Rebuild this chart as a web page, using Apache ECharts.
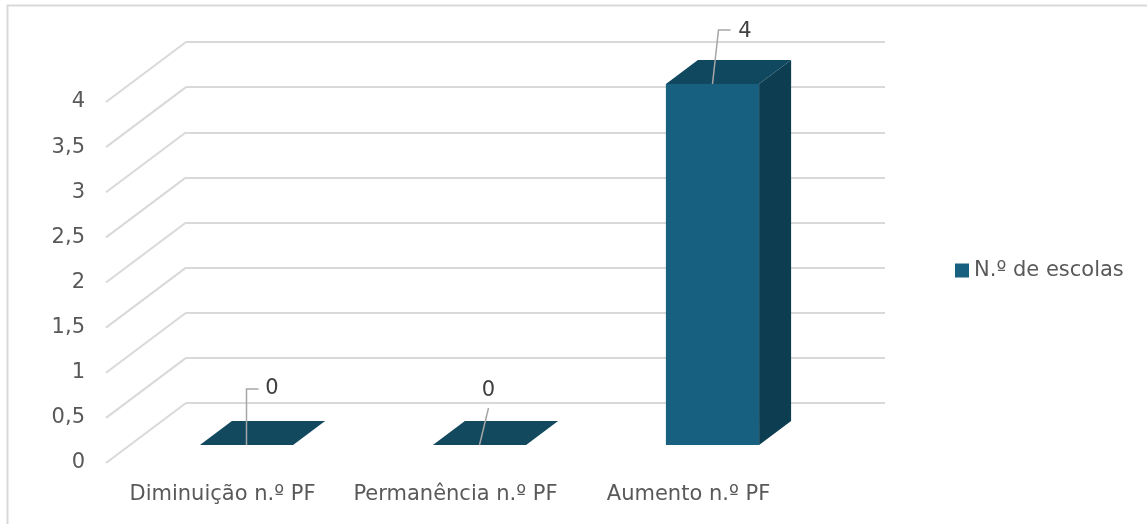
<!DOCTYPE html>
<html>
<head>
<meta charset="utf-8">
<script src="https://cdn.jsdelivr.net/npm/echarts@6/dist/echarts.min.js"></script>
<style>
  html, body { margin: 0; padding: 0; background: #ffffff; }
  #chart { width: 1147px; height: 524px; }
</style>
</head>
<body>
<div id="chart"></div>
<script>
// Categories and values
const categories = ['Diminuição n.º PF', 'Permanência n.º PF', 'Aumento n.º PF'];
const seriesName = 'N.º de escolas';
const escolas = [0, 0, 4];
const tickValues = [0, 0.5, 1, 1.5, 2, 2.5, 3, 3.5, 4];

// Perspective: offset in pixels from the front plane to the back wall
const DEPTH = { dx: 80, dy: -60 };
// Bars occupy this slice of the depth (0 = front, 1 = back wall)
const BAR_DEPTH = [0.3, 0.7];
const BAR_WIDTH_RATIO = 0.4;

// Data label leader lines: points relative to the top-front centre of the bar,
// followed by where the label text is centred
const LABEL_LEADERS = [
  { line: [[0, 0], [0, -56], [12, -56]], text: [25.5, -56] },
  { line: [[0, 0], [9, -37]], text: [9, -54.5] },
  { line: [[0, 0], [6, -54], [18, -54]], text: [32.5, -52.5] }
];

const COLORS = {
  front: '#17607f',
  top: '#10485f',
  side: '#0d3d50',
  flat: '#12495f',
  grid: '#d9d9d9',
  text: '#595959',
  label: '#404040',
  leader: '#a6a6a6'
};
const FONT = '"DejaVu Sans", "Open Sans", sans-serif';
const FONT_SIZE = 21;

// Shift a back-wall point to a given depth fraction
function atDepth(p, f) {
  return [p[0] - (1 - f) * DEPTH.dx, p[1] - (1 - f) * DEPTH.dy];
}

function renderBar(params, api) {
  const idx = api.value(0);
  const val = api.value(1);
  const top = api.coord([idx, val]);
  const base = api.coord([idx, 0]);
  const band = api.size([1, 0])[0];
  const half = band * BAR_WIDTH_RATIO / 2;

  const fTop = atDepth(top, BAR_DEPTH[0]);
  const fBase = atDepth(base, BAR_DEPTH[0]);
  const bTop = atDepth(top, BAR_DEPTH[1]);
  const bBase = atDepth(base, BAR_DEPTH[1]);

  const children = [];
  const topFace = [
    [fTop[0] - half, fTop[1]], [fTop[0] + half, fTop[1]],
    [bTop[0] + half, bTop[1]], [bTop[0] - half, bTop[1]]
  ];
  if (val > 0) {
    children.push({
      type: 'polygon',
      shape: { points: [
        [fTop[0] - half, fTop[1]], [fTop[0] + half, fTop[1]],
        [fBase[0] + half, fBase[1]], [fBase[0] - half, fBase[1]]
      ] },
      style: { fill: COLORS.front }
    });
    children.push({
      type: 'polygon',
      shape: { points: [
        [fTop[0] + half, fTop[1]], [bTop[0] + half, bTop[1]],
        [bBase[0] + half, bBase[1]], [fBase[0] + half, fBase[1]]
      ] },
      style: { fill: COLORS.side }
    });
    children.push({ type: 'polygon', shape: { points: topFace }, style: { fill: COLORS.top } });
  } else {
    children.push({ type: 'polygon', shape: { points: topFace }, style: { fill: COLORS.flat } });
  }

  // Value label with its leader line
  const lead = LABEL_LEADERS[params.dataIndex];
  children.push({
    type: 'polyline',
    shape: { points: lead.line.map(p => [fTop[0] + p[0], fTop[1] + p[1]]) },
    style: { stroke: COLORS.leader, lineWidth: 1.5, fill: null }
  });
  children.push({
    type: 'text',
    style: {
      text: String(val).replace('.', ','),
      x: fTop[0] + lead.text[0],
      y: fTop[1] + lead.text[1],
      align: 'center',
      verticalAlign: 'middle',
      fill: COLORS.label,
      font: FONT_SIZE + 'px ' + FONT
    }
  });
  return { type: 'group', children: children };
}

// Diagonal lines on the left side wall, one per tick
function renderSideWall(params, api) {
  const cs = params.coordSys;
  const y = api.coord([0, api.value(0)])[1];
  return {
    type: 'line',
    shape: { x1: cs.x - DEPTH.dx, y1: y - DEPTH.dy, x2: cs.x, y2: y },
    style: { stroke: COLORS.grid, lineWidth: 2 }
  };
}

const chart = echarts.init(document.getElementById('chart'), null, { renderer: 'canvas' });

const yCommon = { type: 'value', min: 0, max: 4, interval: 0.5 };

chart.setOption({
  animation: false,
  backgroundColor: '#ffffff',
  textStyle: { fontFamily: FONT },
  // Chart area frame (top and left edges)
  graphic: [{
    type: 'polyline',
    shape: { points: [[7.5, 600], [7.5, 5.5], [1200, 5.5]] },
    style: { fill: null, stroke: COLORS.grid, lineWidth: 2 },
    silent: true, z: -10
  }],
  legend: {
    data: [{ name: seriesName, icon: 'rect', itemStyle: { color: COLORS.front } }],
    left: 950,
    top: 255,
    itemWidth: 14,
    itemHeight: 14,
    textStyle: { color: COLORS.text, fontSize: FONT_SIZE, fontFamily: FONT }
  },
  grid: [
    // back wall
    { left: 186, top: 42, width: 699, height: 361 },
    // front plane (axis labels)
    { left: 106, top: 102, width: 699, height: 361 }
  ],
  xAxis: [
    { type: 'category', data: categories, gridIndex: 0, show: false },
    {
      type: 'category', data: categories, gridIndex: 1,
      axisLine: { show: false }, axisTick: { show: false },
      axisLabel: { color: COLORS.text, fontSize: FONT_SIZE, fontFamily: FONT, margin: 21, interval: 0 }
    }
  ],
  yAxis: [
    Object.assign({ gridIndex: 0 }, yCommon, {
      axisLine: { show: false }, axisTick: { show: false }, axisLabel: { show: false },
      splitLine: { show: true, lineStyle: { color: COLORS.grid, width: 2 } }
    }),
    Object.assign({ gridIndex: 1 }, yCommon, {
      axisLine: { show: false }, axisTick: { show: false }, splitLine: { show: false },
      axisLabel: {
        color: COLORS.text, fontSize: FONT_SIZE, fontFamily: FONT, margin: 21,
        formatter: v => String(v).replace('.', ',')
      }
    })
  ],
  series: [
    {
      type: 'custom',
      name: 'side-wall',
      xAxisIndex: 0, yAxisIndex: 0,
      renderItem: renderSideWall,
      data: tickValues.map(v => [v]),
      encode: { y: 0 },
      silent: true, z: 1
    },
    {
      type: 'custom',
      name: seriesName,
      xAxisIndex: 0, yAxisIndex: 0,
      renderItem: renderBar,
      data: escolas.map((v, i) => [i, v]),
      encode: { x: 0, y: 1 },
      itemStyle: { color: COLORS.front },
      z: 5
    }
  ]
});
</script>
</body>
</html>
